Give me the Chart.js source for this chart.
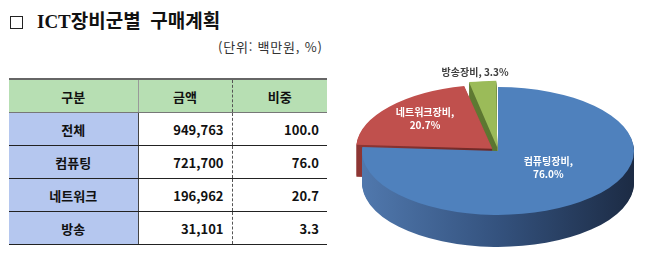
<!DOCTYPE html>
<html lang="ko">
<head>
<meta charset="utf-8">
<script src="https://cdn.jsdelivr.net/npm/chart.js@4/dist/chart.umd.min.js"></script>
<style>
  html, body { margin: 0; padding: 0; }
  body { width: 650px; height: 265px; overflow: hidden; background: #fff; position: relative;
         font-family: 'Noto Sans CJK KR', sans-serif; color: #111; }
  .box { position: absolute; left: 10px; top: 16px; width: 11px; height: 11px; border: 1.3px solid #222; }
  .title { position: absolute; left: 37px; top: 8px; font-size: 19px; line-height: 28px; font-weight: 700;
           font-family: 'Liberation Serif', 'Noto Sans CJK KR', serif; white-space: pre; color: #111; }
  .unit { position: absolute; left: 218px; top: 38px; font-size: 13px; line-height: 18px; letter-spacing: 0.8px; color: #333; white-space: pre; }
  table { position: absolute; left: 9px; top: 78px; width: 318px; table-layout: fixed; border-collapse: collapse;
          font-size: 13px; font-weight: 700; }
  th, td { height: 32px; padding: 0; }
  th { background: #b7dfb3; border-top: 2px solid #666; border-bottom: 1px solid #777; text-align: center; font-weight: 700; }
  td { border-bottom: 1.5px solid #222; }
  .c1 { text-align: center; border-right: 1px solid #444; }
  td.c1 { background: #b5c7ef; }
  th.c1 { border-right: 1px solid #999; }
  .c2 { border-right: 1px dashed #555; }
  td.num { text-align: right; padding-right: 8px; }
  #pie { position: absolute; left: 348px; top: 34px; }
</style>
</head>
<body>
<div class="box"></div>
<div class="title">ICT장비군별  구매계획</div>
<div class="unit">(단위: 백만원, %)</div>
<table id="tabla">
  <colgroup><col style="width:129px"><col style="width:94px"><col style="width:95px"></colgroup>
  <tbody id="filas"></tbody>
</table>
<canvas id="pie" width="300" height="234"></canvas>

<script>
// table data
const headers = ['구분', '금액', '비중'];
const rowNames = ['전체', '컴퓨팅', '네트워크', '방송'];
const amounts = [949763, 721700, 196962, 31101];
const shares = [100.0, 76.0, 20.7, 3.3];

// pie data
const pieLabels = ['컴퓨팅장비', '네트워크장비', '방송장비'];
const pieValues = [76.0, 20.7, 3.3];

// build the table
let body = `<tr><th class="c1">${headers[0]}</th><th class="c2">${headers[1]}</th><th class="c3">${headers[2]}</th></tr>`;
for (let i = 0; i < rowNames.length; i++) {
  body += `<tr><td class="c1">${rowNames[i]}</td><td class="c2 num">${amounts[i].toLocaleString('en-US')}</td><td class="c3 num">${shares[i].toFixed(1)}</td></tr>`;
}
document.getElementById('filas').innerHTML = body;

// 3d look settings
const TILT = 0.47;
const DEPTH = 32;
const topColors = ['#4f81bd', '#c0504d', '#9bbb59'];
const sideColors = [['#5078ad', '#34527e', '#1c2b44'], ['#8e3634', '#6e2826', '#521d1b'], ['#6f8c3c', '#5b7530', '#485d26']];
const labelRadius = [0.54, 0.71, 1.2];
const labelNudge = [[0, -8], [0, -3], [-6, -3]];
const labelColors = ['#fff', '#fff', '#404040'];

function squash(ctx, cy, dy) {
  ctx.translate(0, cy + dy);
  ctx.scale(1, TILT);
  ctx.translate(0, -cy);
}

const pie3d = {
  id: 'pie3d',
  beforeDatasetsDraw(chart) {
    const ctx = chart.ctx;
    const arcs = chart.getDatasetMeta(0).data;
    const cx = arcs[0].x, cy = arcs[0].y, r = arcs[0].outerRadius;
    const grads = sideColors.map(c => {
      const g = ctx.createLinearGradient(cx - r, 0, cx + r, 0);
      g.addColorStop(0, c[0]); g.addColorStop(0.5, c[1]); g.addColorStop(1, c[2]);
      return g;
    });
    // side walls, drawn from the bottom up
    for (let d = DEPTH; d > 0; d--) {
      ctx.save();
      squash(ctx, cy, d);
      arcs.forEach((arc, i) => {
        const orig = arc.options;
        arc.options = Object.assign({}, orig, {backgroundColor: grads[i], borderColor: grads[i], borderWidth: 0});
        arc.draw(ctx);
        arc.options = orig;
      });
      ctx.restore();
    }
    // top face is drawn by chart.js under the same squash
    ctx.save();
    squash(ctx, cy, 0);
  },
  afterDatasetsDraw(chart) {
    const ctx = chart.ctx;
    ctx.restore();
    const arcs = chart.getDatasetMeta(0).data;
    ctx.save();
    ctx.font = 'bold 10px "Noto Sans CJK KR"';
    ctx.textAlign = 'center';
    ctx.textBaseline = 'middle';
    arcs.forEach((arc, i) => {
      const mid = (arc.startAngle + arc.endAngle) / 2;
      const rr = arc.outerRadius * labelRadius[i];
      const x = arc.x + Math.cos(mid) * rr + labelNudge[i][0];
      const y = arc.y + Math.sin(mid) * rr * TILT + labelNudge[i][1];
      ctx.fillStyle = labelColors[i];
      const val = pieValues[i].toFixed(1) + '%';
      if (labelRadius[i] > 1) {
        ctx.fillText(pieLabels[i] + ', ' + val, x, y);
      } else {
        ctx.fillText(pieLabels[i] + ',', x, y - 6.5);
        ctx.fillText(val, x, y + 6.5);
      }
    });
    ctx.restore();
  }
};

new Chart(document.getElementById('pie'), {
  type: 'pie',
  data: {
    labels: pieLabels,
    datasets: [{
      data: pieValues,
      backgroundColor: topColors,
      borderWidth: 0,
      offset: [0, 30, 30]
    }]
  },
  options: {
    responsive: false,
    animation: false,
    radius: 136,
    layout: { padding: 0 },
    plugins: { legend: { display: false }, tooltip: { enabled: false } }
  },
  plugins: [pie3d]
});
</script>
</body>
</html>
